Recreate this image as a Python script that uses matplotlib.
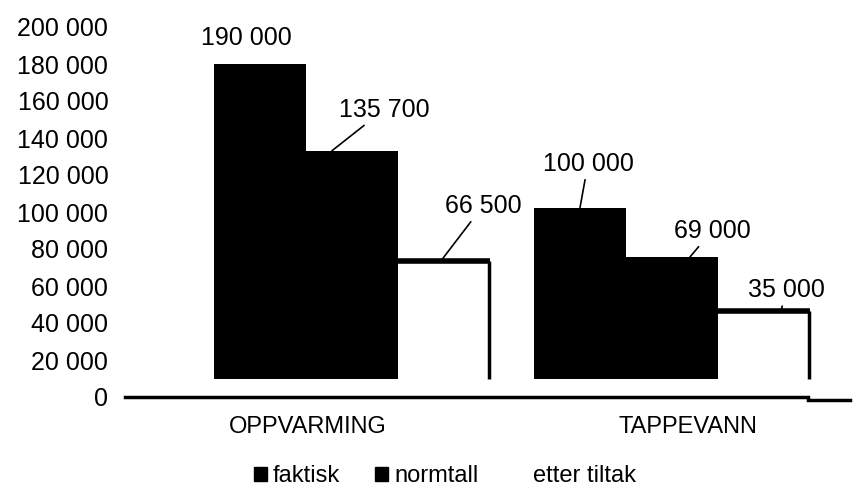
import matplotlib.pyplot as plt
from matplotlib.patches import Patch
import numpy as np

# Data
categories = ["OPPVARMING", "TAPPEVANN"]
series = ["faktisk", "normtall", "etter tiltak"]
faktisk = [190000, 100000]
normtall = [135700, 69000]
etter_tiltak = [66500, 35000]
yticks = np.arange(0, 200001, 20000)

plt.rcParams['font.family'] = ['Liberation Sans', 'DejaVu Sans']

fmt = lambda v: f"{int(v):,}".replace(",", " ")

# the scanned 3D chart draws bar fronts with a perspective: lifted floor and squeezed height
floor_lift = 10000
persp_a, persp_b = 16400, 0.86

def front_top(v):
    return persp_a + persp_b * v

fig = plt.figure(figsize=(8.64, 4.93), dpi=100)
ax = fig.add_axes([125 / 864, 1 - 397 / 493, 725 / 864, 370 / 493])

unit = 320.0  # px per category
w = 92 / unit
x = np.array([0.0, 1.0])
offsets = [-w, 0.0, w]
values = [faktisk, normtall, etter_tiltak]
faces = ['black', 'black', 'white']

for k, (vals, off, fc) in enumerate(zip(values, offsets, faces)):
    tops = np.array([front_top(v) for v in vals])
    ax.bar(x + off, tops - floor_lift, bottom=floor_lift, width=w,
           color=fc, linewidth=0, zorder=3)
    if fc == 'white':
        # open bar: only the top and right edges show
        ax.hlines(tops, x + off - w / 2, x + off + w / 2, color='black', lw=4, zorder=4)
        ax.vlines(x + off + w / 2 - 0.004, floor_lift, tops, color='black', lw=2.5, zorder=4)

# value labels with leader lines (anchor shift px, text offset px)
label_style = {
    (0, 0): (0, -14, 26, False),
    (1, 0): (-20, 52, 41, True),
    (2, 0): (-3, 42, 55, True),
    (0, 1): (0, 8, 44, True),
    (1, 1): (18, 22, 26, True),
    (2, 1): (17, 5, 21, True),
}
for k, vals in enumerate(values):
    for g, v in enumerate(vals):
        sx, dx, dy, leader = label_style[(k, g)]
        xy = (x[g] + offsets[k] + sx / unit, front_top(v))
        ax.annotate(fmt(v), xy=xy, xytext=(dx, dy), textcoords='offset pixels',
                    ha='center', va='center', fontsize=18,
                    arrowprops=dict(arrowstyle='-', lw=1.2, color='black',
                                    shrinkA=1, shrinkB=0) if leader else None,
                    zorder=5)

ax.set_xlim(-0.709, 1.556)
ax.set_ylim(0, 200000)
ax.set_yticks(yticks)
ax.set_yticklabels([fmt(t) for t in yticks], fontsize=18)
ax.set_xticks(x + np.array([-44, 16]) / unit)
ax.set_xticklabels(categories, fontsize=17)
ax.tick_params(axis='y', length=0, pad=12)
ax.tick_params(axis='x', length=0, pad=14)
for s in ax.spines.values():
    s.set_visible(False)

ax.axhline(0, xmin=0, xmax=683 / 725, color='black', lw=2.5, clip_on=False, zorder=4)
ax.axhline(-1600, xmin=683 / 725, xmax=1, color='black', lw=2.5, clip_on=False, zorder=4)

handles = [Patch(facecolor='black', edgecolor='black', label=series[0]),
           Patch(facecolor='black', edgecolor='black', label=series[1]),
           Patch(facecolor='white', edgecolor='white', label=series[2])]
fig.legend(handles=handles, loc='center left', bbox_to_anchor=(249 / 864, 1 - 476 / 493),
           ncol=3, frameon=False, fontsize=17, handlelength=0.55, handleheight=0.55,
           handletextpad=0.25, columnspacing=1.5, borderaxespad=0, borderpad=0.2)

fig.savefig('out.png', dpi=100)
